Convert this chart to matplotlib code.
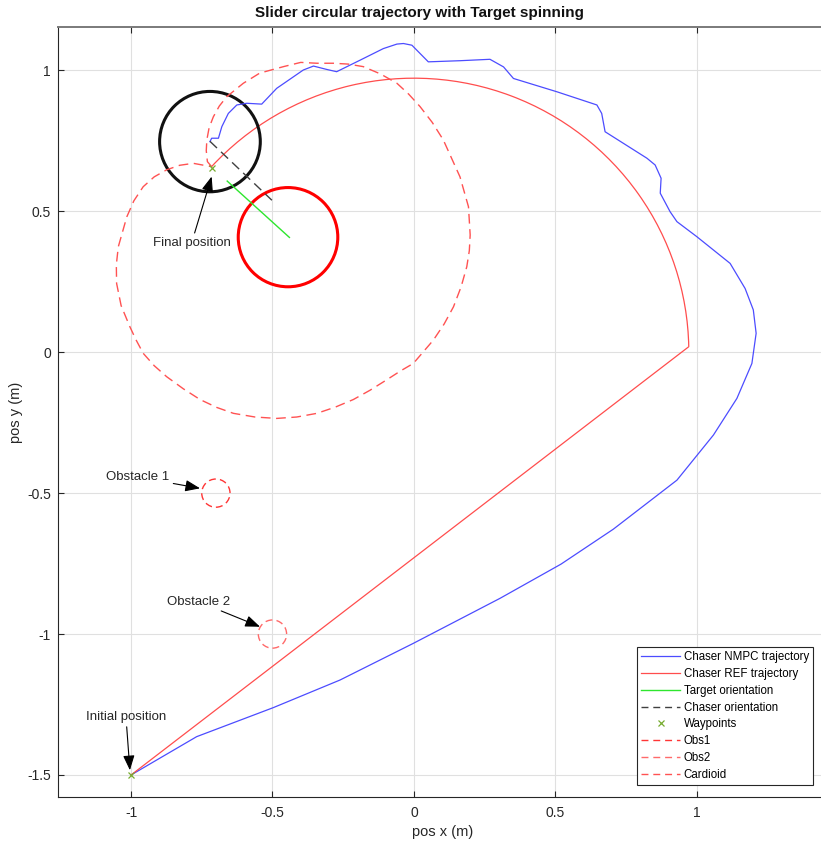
import matplotlib.pyplot as plt
from matplotlib.patches import Circle, Arc
from matplotlib.lines import Line2D

plt.rcParams['font.family'] = ['Liberation Sans', 'DejaVu Sans']

# Chaser NMPC trajectory
nmpc_x = [-1.0, -0.768, -0.497, -0.261, -0.002, 0.305, 0.52, 0.705, 0.930, 1.059,
          1.142, 1.195, 1.210, 1.200, 1.171, 1.118, 1.000, 0.930, 0.906, 0.871,
          0.874, 0.853, 0.824, 0.676, 0.664, 0.647, 0.505, 0.352, 0.317, 0.269,
          0.163, 0.051, -0.007, -0.037, -0.060, -0.108, -0.190, -0.273, -0.308, -0.355,
          -0.391, -0.485, -0.538, -0.591, -0.626, -0.656, -0.679, -0.691, -0.715, -0.721]
nmpc_y = [-1.5, -1.364, -1.261, -1.163, -1.033, -0.873, -0.752, -0.628, -0.454, -0.294,
          -0.164, -0.040, 0.067, 0.150, 0.226, 0.315, 0.410, 0.463, 0.498, 0.564,
          0.617, 0.664, 0.688, 0.782, 0.847, 0.877, 0.924, 0.971, 1.012, 1.039,
          1.034, 1.030, 1.089, 1.095, 1.093, 1.077, 1.036, 0.995, 1.003, 1.015,
          1.001, 0.936, 0.880, 0.883, 0.877, 0.847, 0.800, 0.759, 0.759, 0.747]

# Chaser REF trajectory: straight leg then circular arc
ref_line_x = [-1.0, 0.97]
ref_line_y = [-1.5, 0.018]
ref_arc_center = (0.0, 0.0)
ref_arc_radius = 0.972
ref_arc_deg = (1.1, 137.4)

# waypoints
wp_x = [-1.0, -0.715]
wp_y = [-1.5, 0.655]

# target / chaser bodies
target_c, target_r = (-0.445, 0.408), 0.176
chaser_c, chaser_r = (-0.721, 0.747), 0.178
target_ori_x = [-0.440, -0.660]
target_ori_y = [0.407, 0.607]
chaser_ori_x = [-0.721, -0.502]
chaser_ori_y = [0.748, 0.539]

# obstacles
obs1_c, obs2_c, obs_r = (-0.7, -0.5), (-0.5, -1.0), 0.05

# cardioid
card_x = [-0.715, -0.730, -0.734, -0.732, -0.724, -0.709, -0.688, -0.662, -0.603, -0.545,
          -0.461, -0.400, -0.343, -0.285, -0.232, -0.179, -0.118, -0.060, -0.018, 0.022,
          0.065, 0.104, 0.163, 0.193, 0.199, 0.196, 0.187, 0.167, 0.140, 0.107,
          0.069, -0.002, -0.048, -0.096, -0.155, -0.214, -0.278, -0.343, -0.414, -0.485,
          -0.562, -0.638, -0.697, -0.756, -0.815, -0.874, -0.918, -0.957, -0.983, -1.004,
          -1.035, -1.051, -1.052, -1.045, -1.015, -0.990, -0.957, -0.918, -0.874, -0.828,
          -0.780, -0.715]
card_y = [0.658, 0.676, 0.715, 0.753, 0.796, 0.835, 0.873, 0.906, 0.954, 0.990,
          1.013, 1.028, 1.025, 1.025, 1.022, 1.013, 0.987, 0.954, 0.915, 0.871,
          0.815, 0.753, 0.622, 0.516, 0.416, 0.360, 0.303, 0.232, 0.161, 0.100,
          0.043, -0.040, -0.067, -0.098, -0.135, -0.168, -0.195, -0.217, -0.230, -0.235,
          -0.230, -0.217, -0.196, -0.168, -0.130, -0.087, -0.048, -0.004, 0.045, 0.090,
          0.165, 0.244, 0.310, 0.374, 0.480, 0.537, 0.587, 0.622, 0.647, 0.663,
          0.670, 0.658]

c_blue = '#4c4cff'
c_ref = '#ff4d4d'
c_green = '#2ee62e'
c_wp = '#77ac30'
c_ori = '#404040'
c_obs1 = '#ff3535'
c_obs2 = '#ff6a6a'
c_card = '#ff5252'

fig = plt.figure(figsize=(8.21, 8.41), dpi=100)
ax = fig.add_axes([0.0703, 0.052, 0.9382, 0.9159])

ax.plot(nmpc_x, nmpc_y, color=c_blue, lw=0.9)
ax.plot(ref_line_x, ref_line_y, color=c_ref, lw=0.9)
ax.add_patch(Arc(ref_arc_center, 2 * ref_arc_radius, 2 * ref_arc_radius,
                 theta1=ref_arc_deg[0], theta2=ref_arc_deg[1], color=c_ref, lw=0.9))
ax.plot(card_x, card_y, color=c_card, lw=1.0, dashes=(7, 4))
ax.add_patch(Circle(obs1_c, obs_r, fill=False, ec=c_obs1, lw=1.0, ls=(0, (5, 3))))
ax.add_patch(Circle(obs2_c, obs_r, fill=False, ec=c_obs2, lw=1.0, ls=(0, (5, 3))))
ax.add_patch(Circle(target_c, target_r, fill=False, ec='#ff0000', lw=2.2))
ax.add_patch(Circle(chaser_c, chaser_r, fill=False, ec='#111111', lw=2.2))
ax.plot(target_ori_x, target_ori_y, color=c_green, lw=1.0)
ax.plot(chaser_ori_x, chaser_ori_y, color=c_ori, lw=1.0, dashes=(7, 4))
ax.plot(wp_x, wp_y, 'x', color=c_wp, ms=4, mew=0.9)

arrow = dict(arrowstyle='-|>,head_length=0.9,head_width=0.35', color='k', lw=0.8,
             mutation_scale=10, shrinkA=1, shrinkB=0)
tk = dict(fontsize=9.5, color='#262626', ha='center', va='center')
ax.annotate('Final position', xy=(-0.715, 0.623), xytext=(-0.786, 0.387), arrowprops=arrow, **tk)
ax.annotate('Obstacle 1', xy=(-0.756, -0.483), xytext=(-0.977, -0.443), arrowprops=arrow, **tk)
ax.annotate('Obstacle 2', xy=(-0.544, -0.974), xytext=(-0.762, -0.885), arrowprops=arrow, **tk)
ax.annotate('Initial position', xy=(-1.004, -1.483), xytext=(-1.018, -1.293), arrowprops=arrow, **tk)

ax.set_xlim(-1.2592, 1.464)
ax.set_ylim(-1.579, 1.1536)
ax.set_xticks([-1, -0.5, 0, 0.5, 1])
ax.set_xticklabels(['-1', '-0.5', '0', '0.5', '1'])
ax.set_yticks([-1.5, -1, -0.5, 0, 0.5, 1])
ax.set_yticklabels(['-1.5', '-1', '-0.5', '0', '0.5', '1'])
ax.tick_params(direction='in', length=4, width=0.8, colors='#262626', labelsize=10, top=True)
ax.tick_params(axis='x', pad=6)
ax.tick_params(axis='y', pad=5)
ax.grid(True, color='#e0e0e0', lw=0.8)
ax.set_axisbelow(True)
for s in ['left', 'bottom']:
    ax.spines[s].set_color('#262626')
    ax.spines[s].set_linewidth(0.8)
ax.spines['top'].set_color('#7a7a7a')
ax.spines['top'].set_linewidth(1.4)
ax.set_xlabel('pos x (m)', fontsize=10.5, color='#262626', labelpad=4)
ax.set_ylabel('pos y (m)', fontsize=10.5, color='#262626', labelpad=3)
fig.text(419 / 821, 1 - 13 / 841, 'Slider circular trajectory with Target spinning',
         ha='center', va='center', fontsize=11, fontweight='bold', color='#111111')

handles = [
    Line2D([], [], color=c_blue, lw=0.9),
    Line2D([], [], color=c_ref, lw=0.9),
    Line2D([], [], color=c_green, lw=1.0),
    Line2D([], [], color=c_ori, lw=1.0, dashes=(5, 3.5)),
    Line2D([], [], color=c_wp, marker='x', ls='none', ms=4, mew=0.9),
    Line2D([], [], color=c_obs1, lw=1.0, dashes=(5, 3.5)),
    Line2D([], [], color=c_obs2, lw=1.0, dashes=(5, 3.5)),
    Line2D([], [], color=c_card, lw=1.0, dashes=(5, 3.5)),
]
labels = ['Chaser NMPC trajectory', 'Chaser REF trajectory', 'Target orientation',
          'Chaser orientation', 'Waypoints', 'Obs1', 'Obs2', 'Cardioid']
leg = ax.legend(handles, labels, loc='lower right', bbox_to_anchor=(0.9805, 0.016),
                borderaxespad=0, fontsize=8.3, fancybox=False, framealpha=1,
                edgecolor='#262626', handlelength=3.4, handletextpad=0.3,
                labelspacing=0.42, borderpad=0.35)
leg.get_frame().set_linewidth(0.8)

fig.savefig('out.png', dpi=100)
